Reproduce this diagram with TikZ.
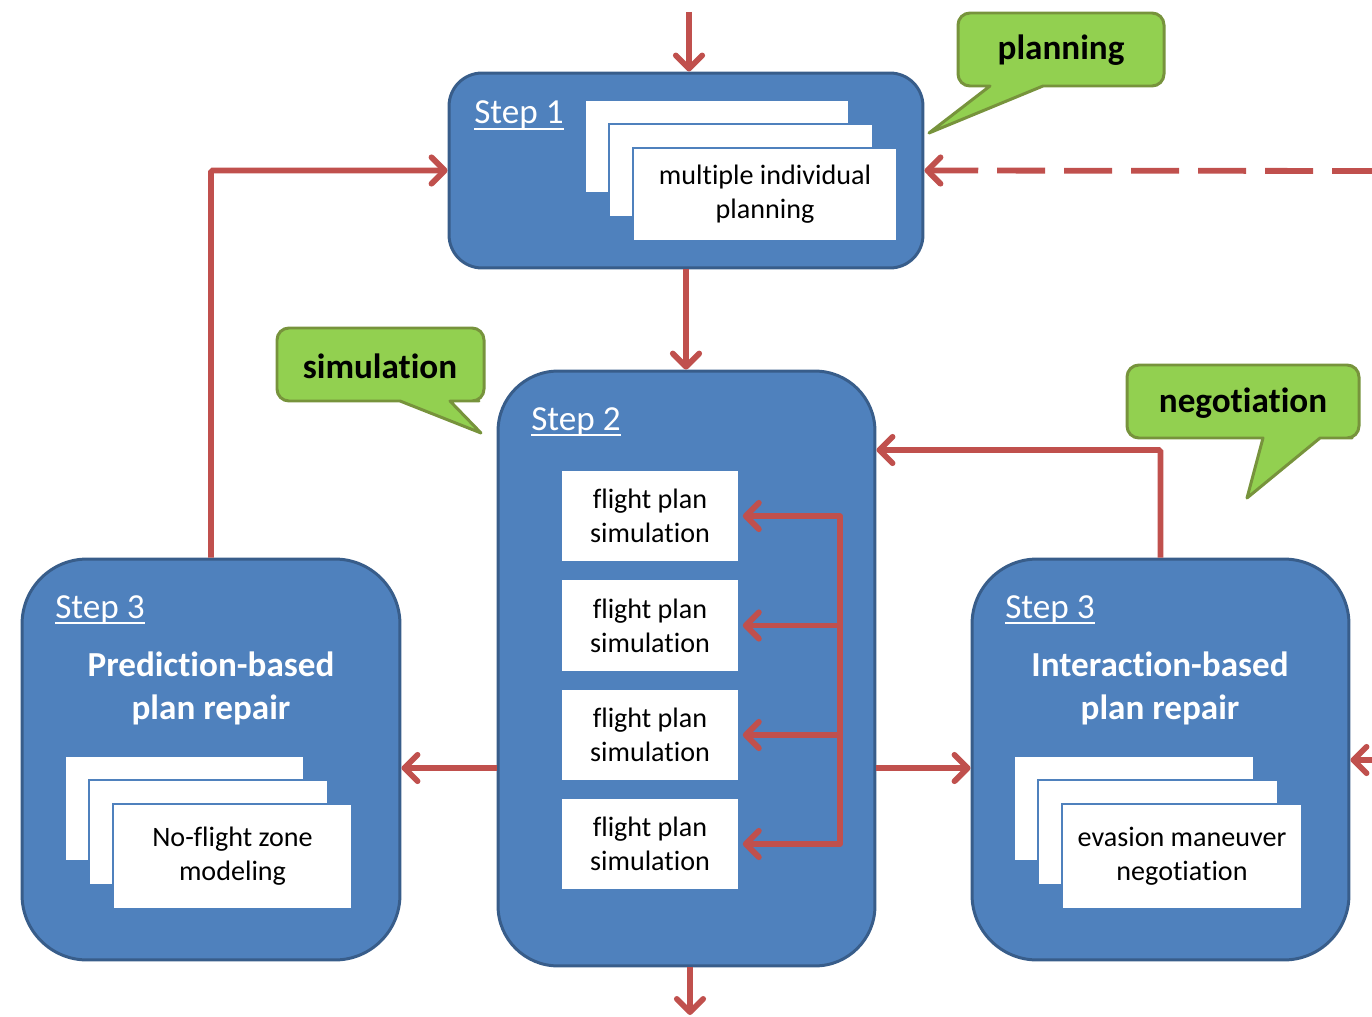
\documentclass[tikz,border=0pt]{standalone}
\usepackage{fontspec}
\setmainfont{Carlito}[Ligatures={NoCommon,NoContextual}]
\usetikzlibrary{arrows.meta,shadows,calc}
\definecolor{boxblue}{HTML}{4F81BD}
\definecolor{boxedge}{HTML}{385D8A}
\definecolor{arrred}{HTML}{C0504D}
\definecolor{bubblefill}{HTML}{92D050}
\definecolor{bubbleedge}{HTML}{77933C}
% underlined stage heading with a slightly heavier rule
\newcommand\stepul[1]{\setbox0\hbox{#1}\rlap{\copy0}\rule[-3.4pt]{\wd0}{1.2pt}}
\tikzset{
  stage/.style={fill=boxblue, draw=boxedge, line width=1.7pt, inner sep=0pt},
  card/.style={fill=white, draw=boxblue, line width=0.9pt, align=center,
    font=\fontsize{16}{19.3}\selectfont, inner sep=0pt, text=black},
  cardstack/.style={card,
    general shadow={shadow xshift=-0.96cm, shadow yshift=0.96cm, fill=white, draw=boxblue, line width=0.9pt},
    general shadow={shadow xshift=-0.48cm, shadow yshift=0.48cm, fill=white, draw=boxblue, line width=0.9pt}},
  simbox/.style={card, minimum width=3.56cm, minimum height=1.84cm},
  steplabel/.style={anchor=base west, text=white, font=\fontsize{20}{24}\selectfont, inner sep=0pt},
  title/.style={text=white, align=center, font=\bfseries\fontsize{20}{24.4}\selectfont, inner sep=0pt},
  bubble/.style={fill=bubblefill, draw=bubbleedge, line width=1.7pt, line join=round},
  bubbletext/.style={font=\bfseries\fontsize{20}{24}\selectfont, inner sep=0pt},
  arr/.style={draw=arrred, line width=3.3pt, -{Straight Barb[round,length=7.5pt,width=15pt]}},
  wire/.style={draw=arrred, line width=3.3pt, line cap=round},
}
\begin{document}
\begin{tikzpicture}[x=0.02cm, y=-0.02cm]
\useasboundingbox (0,0) rectangle (1372,1017);

% ---- stages ----
\node[stage, minimum width=9.48cm, minimum height=3.9cm, rounded corners=0.66cm] (s1) at (686,170.5) {};
\node[stage, minimum width=7.54cm, minimum height=11.9cm, rounded corners=1.2cm] (s2) at (686.5,668.5) {};
\node[stage, minimum width=7.56cm, minimum height=8.02cm, rounded corners=1.3cm] (l3) at (211,759.5) {};
\node[stage, minimum width=7.54cm, minimum height=8.02cm, rounded corners=1.3cm] (r3) at (1160.5,759.5) {};

% ---- step labels and titles ----
\node[steplabel] (s1lab) at (474,124) {\stepul{Step 1}};
\node[steplabel] (s2lab) at (531,430) {\stepul{Step 2}};
\node[steplabel] (l3lab) at (55,618) {\stepul{Step 3}};
\node[steplabel] (r3lab) at (1005,618) {\stepul{Step 3}};
\node[title] (l3title) at (211,688) {Prediction-based\\plan repair};
\node[title] (r3title) at (1160,688) {Interaction-based\\plan repair};

% ---- stacked cards ----
\node[cardstack, minimum width=5.28cm, minimum height=1.86cm] (plan) at (765,194.5) {multiple individual\\planning};
\node[cardstack, minimum width=4.78cm, minimum height=2.1cm] (nfz) at (232.5,856.5) {No-flight zone\\modeling};
\node[cardstack, minimum width=4.8cm, minimum height=2.1cm] (evm) at (1182,856.5) {evasion maneuver\\negotiation};

% ---- simulation boxes ----
\node[simbox] (f1) at (650,516) {flight plan\\simulation};
\node[simbox] (f2) at (650,625.5) {flight plan\\simulation};
\node[simbox] (f3) at (650,735) {flight plan\\simulation};
\node[simbox] (f4) at (650,844) {flight plan\\simulation};

% ---- callouts ----
\draw[bubble] (958,50) [rounded corners=0.24cm] -- (958,13) -- (1164,13) -- (1164,86) -- (1100,86)
  [sharp corners] -- (1043,86) -- (929,133) -- (990,86) -- (974,86)
  [rounded corners=0.24cm] -- (958,86) -- cycle;
\node[bubbletext] (tplan) at (1061,50) {planning};

\draw[bubble] (277,365) [rounded corners=0.24cm] -- (277,328) -- (484,328) -- (484,401) -- (467,401)
  [sharp corners] -- (450,401) -- (481,433) -- (400,401) -- (340,401)
  [rounded corners=0.24cm] -- (277,401) -- cycle;
\node[bubbletext] (tsim) at (380,366) {simulation};

\draw[bubble] (1127,402) [rounded corners=0.24cm] -- (1127,365) -- (1359,365) -- (1359,438) -- (1340,438)
  [sharp corners] -- (1320,438) -- (1247,498) -- (1263,438) -- (1200,438)
  [rounded corners=0.24cm] -- (1127,438) -- cycle;
\node[bubbletext] (tneg) at (1243,403) {negotiation};

% ---- connectors ----
\coordinate (topin) at (689,12);
\coordinate (dashin) at (1380,171);
\coordinate (ya) at (0,768);
\coordinate (yb) at (0,450);
\coordinate (botout) at (690,1015);
\coordinate (rin) at (1400,760);
\coordinate (bus) at (840,0);

\draw[arr] (topin) -- (topin |- s1.north);
\draw[arr] (s1.south) -- (s1.south |- s2.north);
\draw[draw=arrred, line width=3.3pt, dash pattern=on 0.96cm off 0.38cm, {Straight Barb[round,length=7.5pt,width=15pt]}-] (s1.east) -- (dashin);
\draw[arr, rounded corners=1pt] (l3.north) |- (s1.west);
\draw[arr, rounded corners=1pt] (r3.north) |- (s2.east |- yb);
\draw[arr] (s2.west |- ya) -- (l3.east |- ya);
\draw[arr] (s2.east |- ya) -- (r3.west |- ya);
\draw[arr] (s2.south -| botout) -- (botout);
\draw[arr] (rin) -- (r3.east |- rin);

\draw[wire] (bus |- f1.east) -- (bus |- f4.east);
\foreach \f in {f1,f2,f3,f4}
  \draw[arr] (bus |- \f.east) -- ([xshift=0.06cm]\f.east);
\end{tikzpicture}
\end{document}
